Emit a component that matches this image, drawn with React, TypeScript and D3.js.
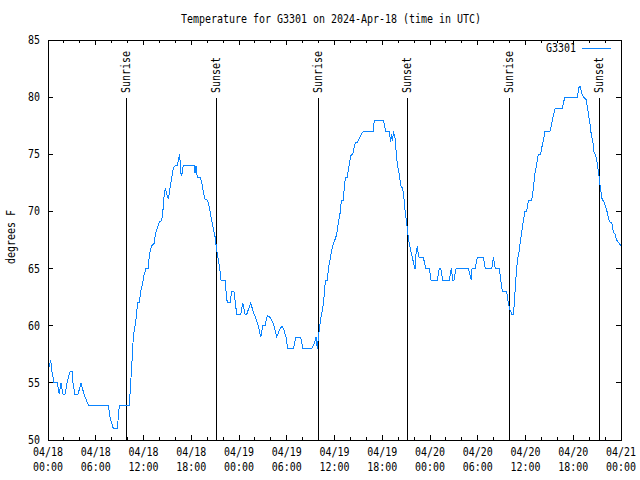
import React from "react";
import { line, scaleLinear, scaleUtc, utcFormat, utcHour } from "d3";

// hours since 2024-04-18 00:00 UTC
const hoursSinceStart = [
  0.0, 0.34, 0.5, 0.75, 1.17, 1.42, 1.63, 1.89, 2.14, 2.39, 2.77, 3.02, 3.14, 3.39, 3.77, 4.15,
  4.52, 5.11, 7.58, 7.79, 8.21, 8.71, 8.96, 10.22, 10.39, 10.56, 10.72, 10.93, 11.15, 11.22,
  11.47, 11.65, 11.9, 12.06, 12.31, 12.6, 12.73, 13.03, 13.36, 13.45, 13.65, 13.86, 13.99,
  14.29, 14.49, 14.61, 14.74, 14.92, 15.12, 15.33, 15.54, 15.75, 15.96, 16.25, 16.42, 16.55,
  16.68, 16.8, 16.93, 17.0, 18.35, 18.47, 18.6, 18.76, 19.1, 19.31, 19.52, 19.73, 20.02, 20.19,
  20.36, 20.57, 20.77, 20.99, 21.2, 21.4, 21.61, 21.74, 22.24, 22.46, 22.53, 22.87, 23.08,
  23.37, 23.71, 24.22, 24.47, 24.76, 24.97, 25.47, 25.8, 26.14, 26.43, 26.73, 26.98, 27.27,
  27.56, 27.81, 28.11, 28.4, 28.74, 29.07, 29.41, 29.66, 29.91, 30.12, 30.83, 31.16, 31.76,
  32.01, 33.14, 33.43, 33.68, 33.84, 34.02, 34.27, 34.52, 34.68, 34.81, 34.93, 35.1, 35.27,
  35.44, 35.65, 35.85, 36.1, 36.28, 36.48, 36.69, 36.82, 36.95, 37.11, 37.28, 37.45, 37.61,
  37.74, 37.95, 38.11, 38.29, 38.49, 38.62, 38.87, 39.12, 39.42, 39.62, 40.88, 41.0, 42.13,
  42.35, 42.47, 42.89, 43.06, 43.19, 43.32, 43.39, 43.61, 43.82, 43.98, 44.15, 44.32, 44.57,
  44.74, 44.9, 45.08, 45.2, 45.33, 45.49, 45.7, 45.9, 46.12, 46.24, 46.41, 46.53, 46.62, 47.16,
  47.46, 47.91, 48.13, 48.92, 49.17, 49.35, 49.6, 50.43, 50.68, 50.86, 51.02, 51.27, 52.82,
  53.03, 53.19, 53.28, 53.66, 53.95, 54.7, 54.95, 55.76, 55.96, 56.21, 56.71, 56.89, 57.09,
  57.64, 57.84, 58.06, 58.27, 58.47, 58.6, 58.72, 58.85, 59.02, 59.19, 59.4, 59.56, 59.73,
  59.94, 60.15, 60.32, 60.48, 60.78, 60.98, 61.16, 61.32, 61.49, 61.61, 61.91, 62.08, 62.24,
  62.45, 63.08, 63.3, 63.5, 63.71, 64.63, 64.75, 64.97, 66.51, 66.69, 66.85, 66.98, 67.19,
  67.61, 67.77, 67.95, 68.11, 68.27, 68.45, 68.61, 68.83, 68.99, 69.2, 69.37, 69.62, 69.87,
  70.12, 70.28, 70.53, 70.84, 71.04, 71.25, 71.46, 71.79, 71.97,
];

const tempsF = [
  56, 57, 56, 55, 55, 54, 55, 54, 54, 55, 56, 56, 55, 54, 54, 55,
  54, 53, 53, 52, 51, 51, 53, 53, 55, 57, 59, 60, 61, 62,
  62, 63, 63.7, 64.4, 65, 65, 66.2, 67, 67.2, 67.8, 68.4, 68.8, 69.1,
  69.2, 70.4, 71.6, 72, 71.5, 71.1, 72, 72.9, 73.8, 74, 74, 74.6, 75,
  73.4, 73.1, 73.8, 74, 74, 73.4, 74, 73, 73, 72.6, 71.7, 71.1, 71, 70.6,
  70, 69.2, 68.5, 67.8, 66.6, 65.8, 64.8, 64, 64, 62.4, 62, 62, 63,
  63, 61, 61, 62, 61, 61, 62, 61.2, 60.6, 60, 59, 60, 60,
  60.9, 60.8, 60.5, 60, 59, 59.6, 60, 59.6, 59, 58, 58, 59, 59,
  58, 58, 58.4, 59, 58, 59.3, 60.6, 61.5, 62.5, 63.6, 64, 64, 65.2,
  65.8, 66.6, 67.2, 67.6, 68, 69, 69.8, 70.7, 71, 71, 72.6, 73, 73,
  73.6, 74.5, 75, 75, 75.7, 76, 76, 76.4, 76.8, 77, 77, 78, 78,
  77.3, 77, 77, 76.1, 76.8, 76.2, 77, 76.4, 74.6, 73.8, 73.2, 72.3, 72,
  71.1, 69.8, 69, 68.1, 67.4, 66.9, 66.2, 65.6, 65, 66.3, 67, 66.2, 66, 66,
  65, 65, 64, 64, 65, 65, 64, 64, 65, 64, 64, 65, 65,
  64.4, 64, 65, 65, 66, 66, 65, 65, 66, 65, 65, 64, 63,
  63, 62, 61.4, 61, 61, 62, 63.4, 64.7, 65.9, 66.5, 67.6, 68.4, 69.2,
  70, 70, 70.8, 71, 71, 72, 73.2, 73.8, 74.5, 75, 75, 75.7, 76.2,
  77, 77, 77.7, 78.4, 79, 79, 79.5, 80, 80, 80.8, 81, 80.6, 80.1,
  79.8, 79.2, 78.3, 77.6, 76.7, 76.2, 75.2, 74.9, 74.3, 73.3, 72.3, 71.1, 70.8,
  70.3, 69.9, 69.1, 69, 68.2, 68, 67.5, 67.2, 67,
];

const sunriseHours = [9.84, 33.97, 57.97];
const sunsetHours = [21.15, 45.15, 69.28];
const yTicks = [50, 55, 60, 65, 70, 75, 80, 85];

const title = "Temperature for G3301 on 2024-Apr-18 (time in UTC)";
const seriesName = "G3301";
const yLabel = "degrees F";

const startMs = Date.UTC(2024, 3, 18, 0, 0);
const toDate = (h: number) => new Date(startMs + h * 3600 * 1000);

const W = 640;
const H = 480;
const margin = { top: 40, right: 19, bottom: 40, left: 48 };
const lineColor = "#0a84ff";
const FONT = "DejaVu Sans Mono";

function Txt({
  x,
  y,
  s,
  anchor = "middle",
  rotate,
}: {
  x: number;
  y: number;
  s: string;
  anchor?: string;
  rotate?: boolean;
}) {
  return (
    <text
      x={x}
      y={y}
      fontFamily={FONT}
      fontSize={12}
      textAnchor={anchor}
      dominantBaseline="central"
      textLength={s.length * 6}
      lengthAdjust="spacingAndGlyphs"
      transform={rotate ? `rotate(-90, ${x}, ${y})` : undefined}
      fill="#000"
    >
      {s}
    </text>
  );
}

export default function App() {
  const x0 = margin.left;
  const x1 = W - margin.right;
  const y0 = margin.top;
  const y1 = H - margin.bottom;

  const x = scaleUtc().domain([toDate(0), toDate(72)]).range([x0, x1]);
  const y = scaleLinear().domain([50, 85]).range([y1, y0]);

  const majorTicks = x.ticks(utcHour.every(6)!);
  const minorTicks = x.ticks(utcHour.every(2)!);
  const fmtDay = utcFormat("%m/%d");
  const fmtTime = utcFormat("%H:%M");

  const path = line<number>()
    .x((h) => x(toDate(h)))
    .y((_, i) => y(tempsF[i]))(hoursSinceStart);

  const markers = [
    ...sunriseHours.map((h) => ({ h, label: "Sunrise" })),
    ...sunsetHours.map((h) => ({ h, label: "Sunset" })),
  ];
  // marker lines begin a little below the rotated labels
  const markerTop = y0 + 58;

  return (
    <svg
      width={W}
      height={H}
      style={{ position: "absolute", left: 0, top: 0, background: "#fff" }}
    >
      <rect x={0} y={0} width={W} height={H} fill="#fff" />
      <Txt x={331} y={19} s={title} />

      {/* x ticks, mirrored top and bottom */}
      <g stroke="#000" shapeRendering="crispEdges">
        {minorTicks.map((d, i) => (
          <g key={`mn${i}`}>
            <line x1={x(d)} x2={x(d)} y1={y1} y2={y1 - 3} />
            <line x1={x(d)} x2={x(d)} y1={y0} y2={y0 + 3} />
          </g>
        ))}
        {majorTicks.map((d, i) => (
          <g key={`mj${i}`}>
            <line x1={x(d)} x2={x(d)} y1={y1} y2={y1 - 5} />
            <line x1={x(d)} x2={x(d)} y1={y0} y2={y0 + 5} />
          </g>
        ))}
        {yTicks.map((t) => (
          <g key={`yt${t}`}>
            <line x1={x0} x2={x0 + 5} y1={y(t)} y2={y(t)} />
            <line x1={x1} x2={x1 - 5} y1={y(t)} y2={y(t)} />
          </g>
        ))}
      </g>

      {majorTicks.map((d, i) => (
        <g key={`xl${i}`}>
          <Txt x={x(d)} y={452} s={fmtDay(d)} />
          <Txt x={x(d)} y={467} s={fmtTime(d)} />
        </g>
      ))}
      {yTicks.map((t) => (
        <Txt key={`yl${t}`} x={40} y={y(t)} s={String(t)} anchor="end" />
      ))}
      <Txt x={11} y={(y0 + y1) / 2 - 3} s={yLabel} rotate />

      {/* sunrise / sunset markers */}
      {markers.map((m) => (
        <g key={`${m.label}${m.h}`}>
          <line
            x1={x(toDate(m.h))}
            x2={x(toDate(m.h))}
            y1={markerTop}
            y2={y1}
            stroke="#000"
            shapeRendering="crispEdges"
          />
          <Txt x={x(toDate(m.h))} y={93} s={m.label} anchor="start" rotate />
        </g>
      ))}

      <path
        d={path ?? ""}
        fill="none"
        stroke={lineColor}
        strokeWidth={1}
        shapeRendering="crispEdges"
      />

      {/* legend */}
      <Txt x={576} y={48} s={seriesName} anchor="end" />
      <line
        x1={582}
        x2={611}
        y1={48}
        y2={48}
        stroke={lineColor}
        shapeRendering="crispEdges"
      />

      <rect
        x={x0}
        y={y0}
        width={x1 - x0}
        height={y1 - y0}
        fill="none"
        stroke="#000"
        shapeRendering="crispEdges"
      />
    </svg>
  );
}
